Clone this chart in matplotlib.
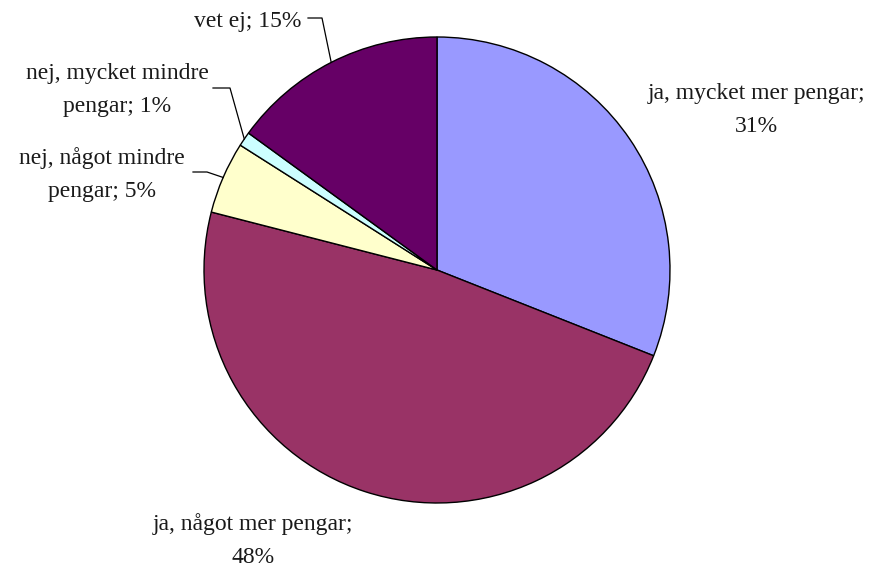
import numpy as np
import matplotlib.pyplot as plt

labels = ['ja, mycket mer pengar', 'ja, något mer pengar', 'nej, något mindre pengar',
          'nej, mycket mindre pengar', 'vet ej']
values = [31, 48, 5, 1, 15]
colors = ['#9999FF', '#993366', '#FFFFCC', '#CCFFFF', '#660066']

W, H = 875, 571
fig = plt.figure(figsize=(W / 100, H / 100), dpi=100)
cx, cy, r = 437, 270, 233
ax = fig.add_axes([(cx - r) / W, (H - cy - r) / H, 2 * r / W, 2 * r / H])

ax.pie(values, colors=colors, startangle=90, counterclock=False, radius=1,
       wedgeprops=dict(edgecolor='black', linewidth=1))
ax.set_xlim(-1, 1)
ax.set_ylim(-1, 1)
ax.set_aspect('equal')
ax.axis('off')

font = dict(family='Liberation Serif', fontsize=17, color='#1a1a1a')


def px(x, y):
    # pixel position -> data coords
    return ((x - cx) / r, (cy - y) / r)


# label centres in pixels, leader points (text end, elbow)
label_pos = [(756, 110), (253, 541), (102, 175), (117, 90), (248, 22)]
texts = ['ja, mycket mer pengar;\n31%', 'ja, något mer pengar;\n48%',
         'nej, något mindre\npengar; 5%', 'nej, mycket mindre\npengar; 1%', 'vet ej; 15%']
leaders = {2: [(193, 172), (207, 172)], 3: [(213, 88), (230, 88)], 4: [(308, 18), (322, 18)]}

cum = np.cumsum([0] + values[:-1])
total = sum(values)
for i, (t, p) in enumerate(zip(texts, label_pos)):
    ax.text(*px(*p), t, ha='center', va='center', linespacing=1.75, **font)
    if i in leaders:
        mid = cum[i] + values[i] / 2
        ang = np.deg2rad(90 - 360 * mid / total)
        pts = [px(*q) for q in leaders[i]] + [(np.cos(ang), np.sin(ang))]
        xs, ys = zip(*pts)
        ax.plot(xs, ys, color='black', linewidth=0.9, clip_on=False)

fig.savefig('out.png', dpi=100)
